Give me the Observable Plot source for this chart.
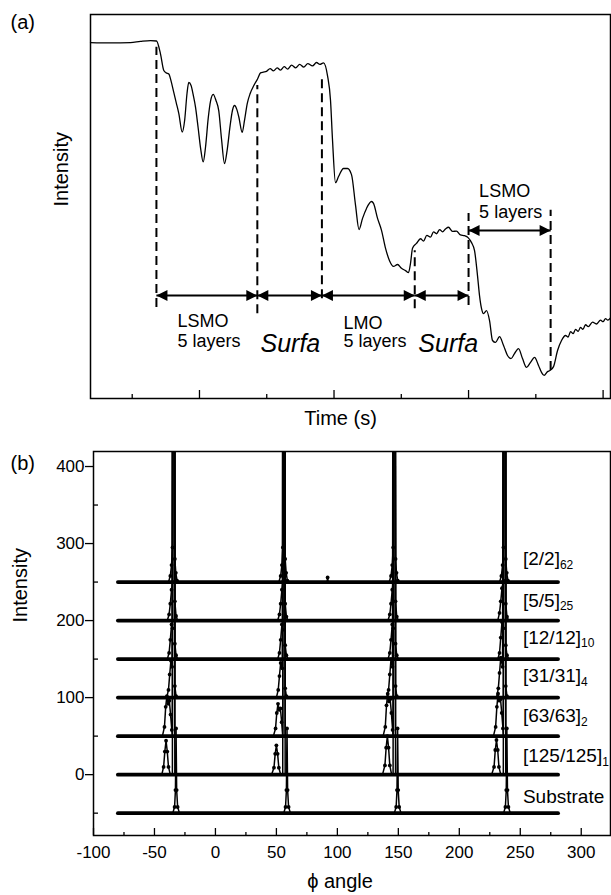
<!DOCTYPE html>
<html><head><meta charset="utf-8">
<script src="https://cdn.jsdelivr.net/npm/d3@7"></script>
<script src="https://cdn.jsdelivr.net/npm/@observablehq/plot@0.6"></script>
<style>
body{margin:0;background:#fff;}
#wrap{width:611px;height:895px;overflow:hidden;background:#fff;}
#wrap svg{display:block;}
</style></head><body><div id="wrap"></div>
<script>
const FONT = '"Liberation Sans", Arial, Helvetica, sans-serif';

// ---------------- Panel (a): RHEED intensity vs time ----------------
const timeA = [38,67.7,97.5,112.3,127.2,136.1,142.1,147.0,150.5,154.4,158.0,161.8,165.5,169.3,174.3,178.0,181.5,184.1,187.5,191.0,194.1,198.0,201.8,205.5,209.0,213.0,216.5,220.4,224.5,228.7,232.8,237.2,241.0,245.5,249.0,252.1,255.5,258.5,263.5,267.0,271.0,275.5,280.8,286.3,290.7,295.0,299.6,305.0,310.0,315.5,320.5,326.0,331.0,337.0,343.0,349.0,355.0,361.0,368.0,374.0,379.0,384.4,390.3,394.8,397.8,402.2,406.7,414.1,420.1,426.0,432.0,437.2,442.4,448.3,455.7,458.7,464.7,470.6,476.6,482.5,488.4,494.4,500.3,506.3,510.7,513.7,516.7,522.6,528.6,533.0,538.0,543.4,548.0,552.4,557.0,561.3,566.0,570.2,576.1,582.1,588.0,594.0,599.3,604.4,608.9,613.3,616.3,619.3,622.2,626.7,631.2,635.6,640.1,646.0,652.0,657.9,663.1,668.3,674.3,680.2,686.2,692.1,698.1,704.0,708.5,712.3,717.4,721.1,726.3,732.3,738.2,744.2,748.0,751.6,755.5,759.0,763.0,766.4,770.0,773.9,778.0,784.3,790.0,796.2,800.0,803.6,807.0,811.0];
const intensityA = [92.7,92.6,92.7,93.0,93.2,93.1,89.7,85.4,84.8,84.5,82.5,79.7,77.0,74.2,69.4,72.5,79.5,82.3,81.5,78.8,75.9,70.5,65.0,61.6,65.5,73.0,77.5,79.2,77.6,74.9,67.5,61.2,64.5,71.0,75.0,76.3,75.3,73.3,69.3,72.5,76.8,79.5,81.5,83.2,84.8,85.0,85.2,85.9,85.3,86.1,85.5,86.4,85.8,86.8,86.1,87.0,86.3,87.2,86.6,87.5,87.0,87.4,84.1,77.6,67.2,56.2,57.8,59.9,59.9,58.3,50.3,44.0,46.9,49.5,51.3,50.8,46.9,43.8,39.1,35.9,34.4,34.9,33.9,33.3,32.8,35.2,39.1,40.4,41.6,41.0,42.5,42.0,43.4,42.9,44.0,43.4,44.2,44.6,43.5,43.6,42.6,42.4,41.9,40.6,38.5,32.0,26.8,23.4,22.1,22.9,20.3,15.1,14.6,16.1,13.8,11.2,10.4,11.7,13.0,10.4,8.1,9.4,10.7,8.6,6.8,6.0,7.0,7.3,8.3,12.5,15.1,16.4,16.0,17.4,16.9,18.0,17.5,18.5,18.0,19.2,18.7,19.9,19.4,20.4,20.0,20.8,20.4,21.0];

const dashTime   = [136, 286, 382, 520, 600, 722];
const dashTop    = [91.5, 81.5, 84.1, 38.5, 48.2, 49.0];
const dashBottom = [23.7, 22.1, 26.0, 23.4, 24.2, 7.3];

const arrowFrom  = [136, 286, 382, 520, 600];
const arrowTo    = [286, 382, 520, 600, 722];
const arrowLevel = [26.8, 26.8, 26.8, 26.8, 43.75];

const annText   = ["LSMO", "5 layers", "Surfa", "LMO", "5 layers", "Surfa", "LSMO", "5 layers"];
const annTime   = [167.3, 167.3, 290.7, 414.1, 414.1, 525.3, 615.7, 615.7];
const annLevel  = [18.5, 13.4, 12.0, 18.2, 13.4, 12.0, 52.4, 47.0];
const annItalic = [false, false, true, false, false, true, false, false];

const timeMajor = [200, 400, 600, 800];
const timeMinor = [100, 300, 500, 700];

// ---------------- Panel (b): phi scans ----------------
const seriesNames = ["Substrate", "[125/125]", "[63/63]", "[31/31]", "[12/12]", "[5/5]", "[2/2]"];
const seriesSub   = ["", "1", "2", "4", "10", "25", "62"];
const seriesBase  = [-50, 0, 50, 100, 150, 200, 250];
const labelLevel  = [-36.9, 16.1, 68.2, 120.3, 169.8, 218, 271.7];
const labelPhi    = 252.2;

const scanSub = [[-80,-50],[-35,-50],[-33.5,-42],[-32.8,-20],[-32.3,60],[-31.8,-20],[-31,-42],[-29.5,-50],
  [56,-50],[57.5,-42],[58.2,-20],[58.7,60],[59.2,-20],[60,-42],[61.5,-50],
  [146.7,-50],[148.2,-42],[148.9,-20],[149.4,60],[149.9,-20],[150.7,-42],[152.2,-50],
  [236.3,-50],[237.8,-42],[238.5,-20],[239,60],[239.5,-20],[240.3,-42],[241.8,-50],[281,-50]];
const scan125 = [[-80,0],[-44,0],[-42.5,10],[-41.5,30],[-40.5,44],[-39.5,30],[-38.5,10],[-37,0],[-35.3,0],[-34.3,2000],[-33.3,0],
  [46,0],[48,9],[49,27],[50,38],[51,27],[52,9],[53.5,0],[55.2,0],[56.2,2000],[57.2,0],
  [137,0],[139,12],[140,35],[141,50],[142,35],[143,12],[144.5,0],[145.7,0],[146.7,2000],[147.7,0],
  [226.5,0],[228.5,10],[229.5,32],[230.5,45],[231.5,32],[232.5,10],[234,0],[236.1,0],[237.1,2000],[238.1,0],[281,0]];
const scan63 = [[-80,50],[-43.5,50],[-41.8,62],[-40.8,88],[-39.8,102],[-38.8,92],[-37.8,96],[-36.8,78],[-35.8,58],[-35.3,50],[-34.3,2000],[-33.3,50],
  [47.5,50],[49.3,60],[50.3,80],[51.3,92],[52.3,84],[53.3,86],[54.3,68],[55.2,50],[56.2,2000],[57.2,50],
  [137.5,50],[139.3,62],[140.3,90],[141.3,105],[142.3,95],[143.3,98],[144.3,80],[145.3,58],[145.7,50],[146.7,2000],[147.7,50],
  [228,50],[229.8,62],[230.8,88],[231.8,105],[232.8,96],[233.8,98],[234.8,80],[235.8,60],[236.1,50],[237.1,2000],[238.1,50],[281,50]];
const scan31 = [[-80,100],[-40,100],[-38.5,110],[-37.5,130],[-36.5,148],[-35.5,140],[-34.3,2000],[-33.3,115],[-32.3,102],[-31,100],
  [50,100],[51.5,110],[52.5,128],[53.5,145],[54.8,138],[56.2,2000],[57.2,112],[58.2,102],[59.5,100],
  [140.5,100],[142,110],[143,130],[144,150],[145.2,140],[146.7,2000],[147.7,115],[148.7,102],[150,100],
  [230.5,100],[232,112],[233,132],[234,152],[235.5,140],[237.1,2000],[238.1,115],[239.1,102],[240.5,100],[281,100]];
const scan12 = [[-80,150],[-39.5,150],[-38,158],[-37,175],[-36,195],[-35.2,190],[-34.3,2000],[-33.3,170],[-32.3,155],[-31,150],
  [51,150],[52.5,158],[53.5,175],[54.5,195],[55.3,188],[56.2,2000],[57.2,168],[58.2,155],[59.5,150],
  [141.5,150],[143,158],[144,175],[145,195],[145.8,190],[146.7,2000],[147.7,170],[148.7,155],[150,150],
  [231.5,150],[233,158],[234,178],[235,198],[236.2,190],[237.1,2000],[238.1,168],[239.1,155],[240.5,150],[281,150]];
const scan5 = [[-80,200],[-39.5,200],[-38,208],[-37,222],[-36,240],[-35.2,250],[-34.3,2000],[-33.3,225],[-32.3,206],[-31,200],
  [51,200],[52.5,208],[53.5,222],[54.5,240],[55.3,250],[56.2,2000],[57.2,222],[58.2,205],[59.5,200],
  [141.5,200],[143,208],[144,222],[145,240],[145.8,250],[146.7,2000],[147.7,225],[148.7,205],[150,200],
  [231.5,200],[233,210],[234,225],[235,242],[236.2,252],[237.1,2000],[238.1,222],[239.1,205],[240.5,200],[281,200]];
const scan2 = [[-80,250],[-38.5,250],[-37,258],[-36,272],[-35.2,295],[-34.3,2000],[-33.3,280],[-32.5,262],[-31.5,252],[-30,250],
  [52,250],[53.5,258],[54.5,272],[55.3,295],[56.2,2000],[57.2,280],[58,262],[59,252],[60.5,250],
  [91.5,250],[92,256],[92.5,250],
  [142.5,250],[144,258],[145,272],[145.8,295],[146.7,2000],[147.7,280],[148.5,262],[149.5,252],[151,250],
  [233,250],[234.5,258],[235.5,272],[236.2,295],[237.1,2000],[238.1,280],[238.9,262],[239.9,252],[241.4,250],[281,250]];
const scans = [scanSub, scan125, scan63, scan31, scan12, scan5, scan2];

const phiMajor = [-100, -50, 0, 50, 100, 150, 200, 250, 300];
const phiMinor = [-75, -25, 25, 75, 125, 175, 225, 275];
const intMajor = [0, 100, 200, 300, 400];
const intMinor = [-50, 50, 150, 250, 350];

// ---------------- build tables ----------------
const curveA = timeA.map((t, i) => ({t, v: intensityA[i]}));
const dashRows = dashTime.map((t, i) => ({t, top: dashTop[i], bottom: dashBottom[i]}));
const arrowRows = arrowFrom.map((f, i) => ({from: f, to: arrowTo[i], level: arrowLevel[i]}));
const annRows = annText.map((s, i) => ({s, t: annTime[i], v: annLevel[i], it: annItalic[i]}));

const rowsB = [];
scans.forEach((pts, i) => pts.forEach(([phi, v]) => rowsB.push({phi, v, series: seriesNames[i], base: seriesBase[i]})));
const labelRows = seriesNames.map((n, i) => ({s: n + (seriesSub[i] ? "_" + seriesSub[i] : ""), v: labelLevel[i]}));

const headRight = {draw(ctx) { ctx.moveTo(0, 0); ctx.lineTo(-11, -5.5); ctx.lineTo(-11, 5.5); ctx.closePath(); }};
const headLeft  = {draw(ctx) { ctx.moveTo(0, 0); ctx.lineTo(11, -5.5); ctx.lineTo(11, 5.5); ctx.closePath(); }};

const styleBase = {fontFamily: FONT, fontSize: "17px", background: "#fff", color: "#000"};

const chartA = Plot.plot({
  width: 611, height: 440, marginTop: 14, marginBottom: 42, marginLeft: 90, marginRight: 1,
  style: styleBase,
  x: {domain: [38, 811], axis: null},
  y: {domain: [0, 100], axis: null},
  marks: [
    Plot.ruleX(dashRows, {x: "t", y1: "bottom", y2: "top", stroke: "#000", strokeWidth: 2, strokeDasharray: "9,5"}),
    Plot.link(arrowRows, {x1: "from", x2: "to", y1: "level", y2: "level", stroke: "#000", strokeWidth: 2}),
    Plot.dot(arrowRows, {x: "from", y: "level", symbol: headLeft, fill: "#000"}),
    Plot.dot(arrowRows, {x: "to", y: "level", symbol: headRight, fill: "#000"}),
    Plot.line(curveA, {x: "t", y: "v", curve: "monotone-x", stroke: "#000", strokeWidth: 1.3}),
    Plot.text(annRows.filter(d => !d.it), {x: "t", y: "v", text: "s", textAnchor: "start", lineAnchor: "bottom", fontSize: 18}),
    Plot.text(annRows.filter(d => d.it), {x: "t", y: "v", text: "s", textAnchor: "start", lineAnchor: "bottom", fontSize: 25, fontStyle: "italic"}),
    Plot.frame({stroke: "#000", strokeWidth: 1.5}),
    Plot.ruleX(timeMajor, {x: d => d, insetTop: 376, stroke: "#000", strokeWidth: 1.3}),
    Plot.ruleX(timeMinor, {x: d => d, insetTop: 380, stroke: "#000", strokeWidth: 1.3}),
    Plot.text(["(a)"], {text: d => d, frameAnchor: "top-left", dx: -80, dy: 14, textAnchor: "start", lineAnchor: "bottom", fontSize: 20}),
    Plot.text(["Intensity"], {text: d => d, frameAnchor: "left", dx: -29, rotate: -90, fontSize: 20}),
    Plot.text(["Time (s)"], {text: d => d, frameAnchor: "bottom", dx: -10, dy: 26, lineAnchor: "bottom", fontSize: 20})
  ]
});

const chartB = Plot.plot({
  width: 611, height: 455, marginTop: 11, marginBottom: 60, marginLeft: 93, marginRight: 1,
  style: styleBase,
  x: {domain: [-100, 324]},
  y: {domain: [-79, 419.5]},
  marks: [
    Plot.line(rowsB.filter(d => d.v === d.base), {x: "phi", y: "v", z: "series", stroke: "#000", strokeWidth: 3.8}),
    Plot.line(rowsB, {x: "phi", y: "v", z: "series", stroke: "#000", strokeWidth: 1.5, clip: true}),
    Plot.dot(rowsB.filter(d => d.v !== d.base && d.v < 420), {x: "phi", y: "v", r: 1.9, fill: "#000", clip: true}),
    Plot.text(labelRows, {x: () => labelPhi, y: "v", text: "s", textAnchor: "start", lineAnchor: "bottom", fontSize: 19}),
    Plot.frame({stroke: "#000", strokeWidth: 1.5}),
    Plot.axisY({ticks: intMajor, tickSize: 8, tickPadding: 1, tickFormat: d => String(d), label: null, strokeWidth: 1.3}),
    Plot.ruleY(intMinor, {y: d => d, insetRight: 512, stroke: "#000", strokeWidth: 1.3}),
    Plot.axisX({ticks: phiMajor, tickSize: 0, tickPadding: 10, tickFormat: d => String(d), label: null}),
    Plot.ruleX(phiMajor, {x: d => d, insetTop: 377, stroke: "#000", strokeWidth: 1.3}),
    Plot.ruleX(phiMinor, {x: d => d, insetTop: 381, stroke: "#000", strokeWidth: 1.3}),
    Plot.text(["(b)"], {text: d => d, frameAnchor: "top-left", dx: -83, dy: 18, textAnchor: "start", lineAnchor: "bottom", fontSize: 20}),
    Plot.text(["Intensity"], {text: d => d, frameAnchor: "left", dx: -73, dy: -21, rotate: -90, fontSize: 20}),
    Plot.text(["\u03D5 angle"], {text: d => d, frameAnchor: "bottom", dx: -12, dy: 52, lineAnchor: "bottom", fontSize: 20})
  ]
});

// subscripts for the series labels
d3.select(chartB).selectAll("text").each(function() {
  const m = /^(\[.*\])_(\d+)$/.exec(this.textContent);
  if (m) {
    this.textContent = m[1];
    d3.select(this).append("tspan").attr("dy", "0.3em").attr("font-size", "12px").text(m[2]);
  }
});

const wrap = document.getElementById("wrap");
wrap.appendChild(chartA);
wrap.appendChild(chartB);
</script>
</body></html>
